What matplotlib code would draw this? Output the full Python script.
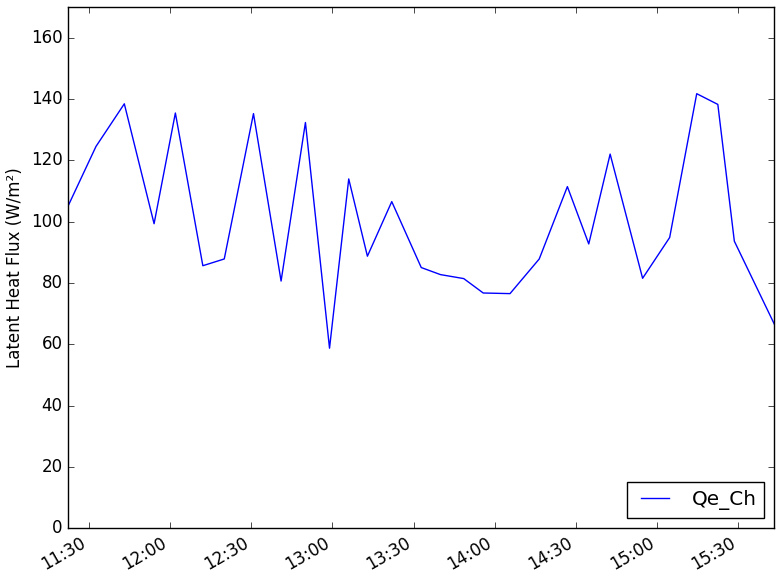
import matplotlib
matplotlib.use("Agg")
import matplotlib.pyplot as plt
import matplotlib.dates as mdates
import pandas as pd

# sample times and latent heat flux values
times = ["11:22:18", "11:32:36", "11:43:04", "11:54:04", "12:01:56", "12:12:05",
         "12:20:00", "12:30:48", "12:41:00", "12:50:00", "12:58:54", "13:06:00",
         "13:12:54", "13:21:54", "13:32:48", "13:39:54", "13:48:30", "13:55:42",
         "14:05:36", "14:16:24", "14:26:48", "14:34:42", "14:42:36", "14:54:36",
         "15:04:36", "15:14:36", "15:22:24", "15:28:30", "15:43:18"]
qe_ch = [105.1, 124.5, 138.4, 99.3, 135.4, 85.6, 87.8, 135.2, 80.6, 132.3,
         58.7, 113.9, 88.7, 106.5, 85.0, 82.7, 81.4, 76.7, 76.5, 87.8,
         111.4, 92.7, 122.0, 81.5, 94.8, 141.7, 138.2, 93.6, 66.5]

t = pd.to_datetime(["2015-06-15 " + s for s in times])

plt.style.use("classic")
fig, ax = plt.subplots(figsize=(7.83, 5.76), dpi=100)
fig.patch.set_facecolor("white")

ax.plot(t, qe_ch, color="blue", label="Qe_Ch")
ax.set_xlim(t[0], t[-1])
ax.set_ylim(0, 170)
ax.set_ylabel("Latent Heat Flux (W/m²)")

ax.xaxis.set_major_locator(mdates.MinuteLocator(byminute=[0, 30]))
ax.xaxis.set_major_formatter(mdates.DateFormatter("%H:%M"))
fig.autofmt_xdate()

ax.legend(loc="lower right")
fig.subplots_adjust(left=0.087, right=0.989, top=0.988, bottom=0.083)
fig.savefig("out.png", dpi=100, facecolor="white")
